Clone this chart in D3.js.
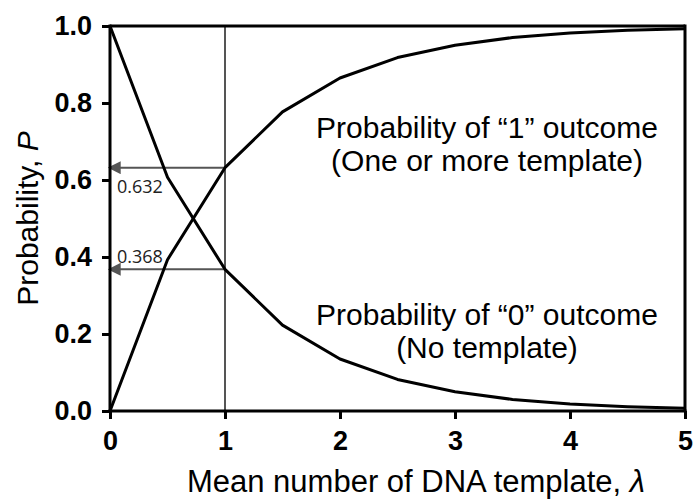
<!DOCTYPE html>
<html>
<head>
<meta charset="utf-8">
<script src="https://cdn.jsdelivr.net/npm/d3@7"></script>
<style>
  html, body { margin: 0; padding: 0; background: #fff; }
  svg { display: block; }
</style>
</head>
<body>
<svg id="chart" width="693" height="501"></svg>
<script>
// Mean number of templates per partition
const lambdaValues = [0, 0.5, 1, 1.5, 2, 2.5, 3, 3.5, 4, 4.5, 5];
// Probability of a "0" outcome (no template)
const probZero = [1.0, 0.607, 0.368, 0.223, 0.135, 0.082, 0.050, 0.030, 0.018, 0.011, 0.007];
// Probability of a "1" outcome (one or more template)
const probOne = [0.0, 0.393, 0.632, 0.777, 0.865, 0.918, 0.950, 0.970, 0.982, 0.989, 0.993];
const markerLambda = 1;
const markerValues = [0.632, 0.368];
const xTicks = [0, 1, 2, 3, 4, 5];
const yTicks = [0, 0.2, 0.4, 0.6, 0.8, 1.0];

const svg = d3.select("#chart");

const x = d3.scaleLinear().domain([0, 5]).range([110, 685]);
const y = d3.scaleLinear().domain([0, 1]).range([411, 26]);

const ink = "#000";
const gray = "#555";
const sansFont = "'Liberation Sans', Arial, sans-serif";

// Arrowhead marker for the read-off lines
svg.append("defs").append("marker")
  .attr("id", "arrow")
  .attr("viewBox", "0 0 10 10")
  .attr("refX", 9).attr("refY", 5)
  .attr("markerWidth", 6.5).attr("markerHeight", 6.5)
  .attr("markerUnits", "strokeWidth")
  .attr("orient", "auto")
  .append("path")
  .attr("d", "M0,0 L10,5 L0,10 Z")
  .attr("fill", gray);

// Vertical guide at lambda = 1
svg.append("line")
  .attr("x1", x(markerLambda)).attr("x2", x(markerLambda))
  .attr("y1", y(0)).attr("y2", y(1))
  .attr("stroke", gray).attr("stroke-width", 2);

// Horizontal read-off lines with arrows to the y axis
svg.selectAll(".readoff").data(markerValues).enter().append("line")
  .attr("class", "readoff")
  .attr("x1", x(markerLambda)).attr("x2", x(0) - 1)
  .attr("y1", d => y(d)).attr("y2", d => y(d))
  .attr("stroke", gray).attr("stroke-width", 2)
  .attr("marker-end", "url(#arrow)");

// Value labels next to the arrows
svg.selectAll(".readoff-label").data(markerValues).enter().append("text")
  .attr("class", "readoff-label")
  .attr("x", x(0) + 7)
  .attr("y", d => d > 0.5 ? y(d) + 25 : y(d) - 6)
  .attr("font-family", "'Open Sans', 'DejaVu Sans', sans-serif")
  .attr("font-size", 18)
  .attr("fill", "#222")
  .text(d => d.toFixed(3));

// Curves
const line = d3.line().x(d => x(d[0])).y(d => y(d[1]));
[probZero, probOne].forEach(series => {
  svg.append("path")
    .datum(lambdaValues.map((l, i) => [l, series[i]]))
    .attr("d", line)
    .attr("fill", "none")
    .attr("stroke", ink)
    .attr("stroke-width", 3)
    .attr("stroke-linejoin", "round");
});

// Frame: top and right edges
svg.append("line").attr("x1", x(0)).attr("x2", x(5)).attr("y1", y(1)).attr("y2", y(1))
  .attr("stroke", ink).attr("stroke-width", 3);
svg.append("line").attr("x1", x(5)).attr("x2", x(5)).attr("y1", y(1) - 1.5).attr("y2", y(0))
  .attr("stroke", ink).attr("stroke-width", 3);

// Axes
const xAxis = svg.append("g").attr("transform", `translate(0,${y(0)})`)
  .call(d3.axisBottom(x).tickValues(xTicks).tickFormat(d3.format("d")).tickSize(8).tickPadding(10));
const yAxis = svg.append("g").attr("transform", `translate(${x(0)},0)`)
  .call(d3.axisLeft(y).tickValues(yTicks).tickFormat(d3.format(".1f")).tickSize(8).tickPadding(10));

[xAxis, yAxis].forEach(g => {
  g.select(".domain").attr("stroke", ink).attr("stroke-width", 3);
  g.selectAll(".tick line").attr("stroke", ink).attr("stroke-width", 3);
  g.selectAll(".tick text")
    .attr("fill", ink)
    .attr("font-family", sansFont)
    .attr("font-weight", "bold")
    .attr("font-size", 27);
});
xAxis.selectAll(".tick text").attr("dy", "0.78em");
yAxis.select(".domain").attr("d", `M0,${y(0) + 1.5}V${y(1) - 1.5}`);
xAxis.select(".domain").attr("d", `M${x(0) - 1.5},0H${x(5) + 1.5}`);

// Axis titles
const xt = svg.append("text")
  .attr("x", 416).attr("y", 492)
  .attr("text-anchor", "middle")
  .attr("font-family", sansFont).attr("font-size", 31).attr("fill", ink);
xt.append("tspan").text("Mean number of DNA template, ");
xt.append("tspan").attr("font-style", "italic").text("λ");

const yt = svg.append("text")
  .attr("transform", `translate(38,${(y(0) + y(1)) / 2}) rotate(-90)`)
  .attr("text-anchor", "middle")
  .attr("font-family", sansFont).attr("font-size", 30).attr("fill", ink);
yt.append("tspan").text("Probability, ");
yt.append("tspan").attr("font-style", "italic").text("P");

// Curve annotations
const notes = [
  { lines: ["Probability of \u201C1\u201D outcome", "(One or more template)"], y0: 138 },
  { lines: ["Probability of \u201C0\u201D outcome", "(No template)"], y0: 325 }
];
notes.forEach(n => {
  n.lines.forEach((t, i) => {
    svg.append("text")
      .attr("x", 487).attr("y", n.y0 + i * 33)
      .attr("text-anchor", "middle")
      .attr("font-family", sansFont).attr("font-size", 30).attr("fill", ink)
      .text(t);
  });
});
</script>
</body>
</html>
